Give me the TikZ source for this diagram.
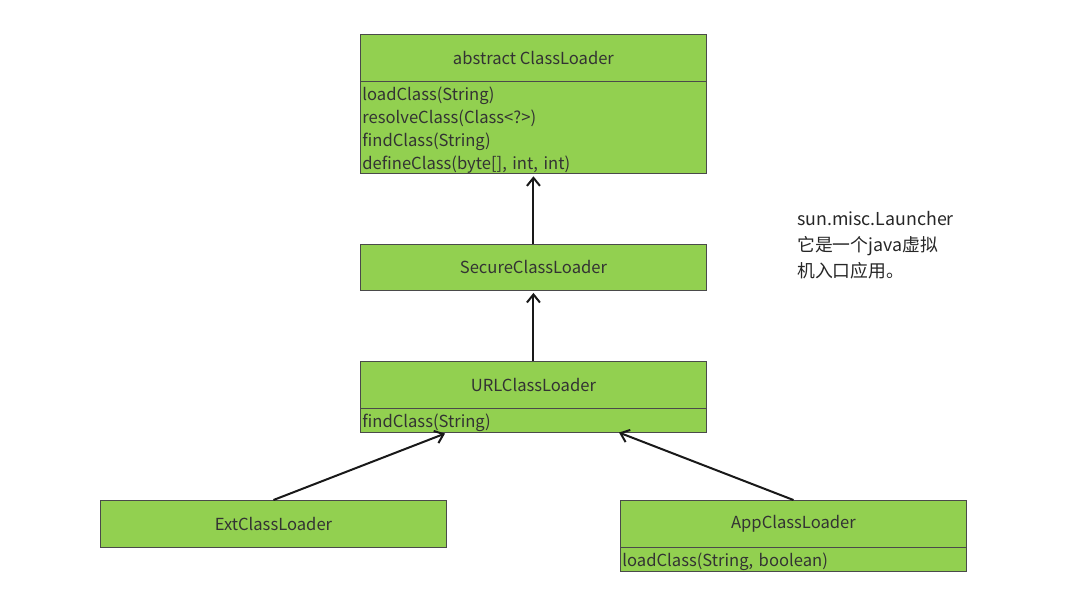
\documentclass[tikz,border=0pt]{standalone}
\usepackage{fontspec}
\setmainfont{Noto Sans CJK SC}
\usetikzlibrary{arrows.meta,calc}
\definecolor{boxgreen}{HTML}{92D050}
\definecolor{boxline}{HTML}{4A4A4A}
\definecolor{ink}{HTML}{333333}
% extra room above the first member line
\newcommand{\firstgap}{\rule{0pt}{19.5pt}}
\tikzset{
  cls/.style={draw=boxline, line width=0.9pt, fill=boxgreen, rectangle,
    minimum width=346pt, inner sep=0pt, anchor=north west, text=ink,
    font=\fontsize{16.6pt}{23pt}\selectfont},
  clsbody/.style={cls, align=left, text width=342pt, inner xsep=2pt},
  inherit/.style={draw=black!90, line width=2pt,
    -{Straight Barb[length=8pt,width=13pt,line width=2pt]}},
  notetext/.style={anchor=north west, align=left, text=black!85, inner sep=0pt,
    font=\fontsize{17.8pt}{26pt}\selectfont}
}
\begin{document}
\begin{tikzpicture}[x=1pt,y=-1pt]
\useasboundingbox (0,0) rectangle (1085,606);
\fill[white] (0,0) rectangle (1085,606);

% ClassLoader
\node[cls, minimum height=47pt] (clhead) at (360,34) {abstract ClassLoader};
\node[clsbody, minimum height=92pt] (clbody) at (360,81)
  {\firstgap loadClass(String)\\resolveClass(Class<?>)\\findClass(String)\\defineClass(byte[], int, int)};

% SecureClassLoader
\node[cls, minimum height=46pt] (secure) at (360,244) {SecureClassLoader};

% URLClassLoader
\node[cls, minimum height=47pt] (urlhead) at (360,361) {URLClassLoader};
\node[clsbody, minimum height=23pt] (urlbody) at (360,408) {\firstgap findClass(String)};

% ExtClassLoader
\node[cls, minimum height=47pt] (ext) at (100,500) {ExtClassLoader};

% AppClassLoader
\node[cls, minimum height=47pt] (apphead) at (620,500) {AppClassLoader};
\node[clsbody, minimum height=23pt] (appbody) at (620,547) {\firstgap loadClass(String, boolean)};

% note
\node[notetext] (note) at (797,211) {sun.misc.Launcher\\它是一个java虚拟\\机入口应用。};

% inheritance arrows
\draw[inherit] (secure.north) -- ($(clbody.south)+(0,2)$);
\draw[inherit] (urlhead.north) -- ($(secure.south)+(0,2)$);
\draw[inherit] (ext.north) -- ($(urlbody.south west)+(85,1)$);
\draw[inherit] (apphead.north) -- ($(urlbody.south west)+(259,0)$);
\end{tikzpicture}
\end{document}
